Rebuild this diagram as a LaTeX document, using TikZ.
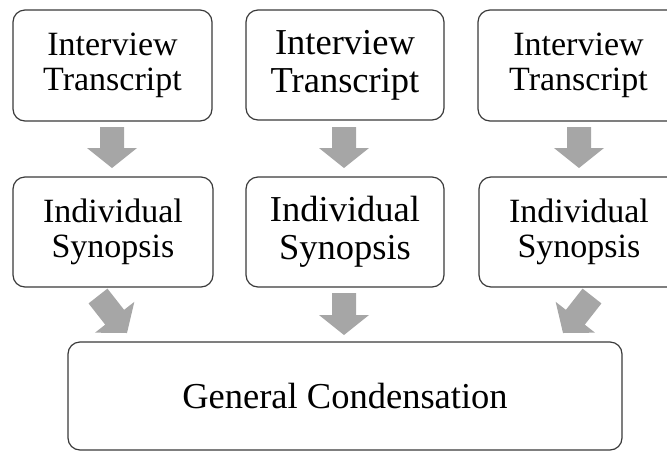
\documentclass[tikz,border=0pt]{standalone}
\usepackage{fontspec}
\setmainfont{Liberation Serif}
\usetikzlibrary{calc}
\definecolor{arrowgray}{HTML}{A6A6A6}
\definecolor{boxline}{HTML}{3A3A3A}
\tikzset{
  box/.style={draw=boxline, line width=1.2pt, rounded corners=12pt, fill=white,
    align=center, inner sep=0pt, font=\fontsize{34}{35}\selectfont},
  bigbox/.style={box, font=\fontsize{36.5}{38}\selectfont},
  arrowfill/.style={fill=arrowgray}
}
\newcommand\blockarrow[2]{%
  \coordinate (ba-m) at ($(#2)!20pt!(#1)$);
  \fill[arrowfill] ($(#1)!12pt!90:(#2)$) -- ($(ba-m)!12pt!90:(#2)$) -- ($(ba-m)!25pt!90:(#2)$) -- (#2)
    -- ($(ba-m)!25pt!-90:(#2)$) -- ($(ba-m)!12pt!-90:(#2)$) -- ($(#1)!12pt!-90:(#2)$) -- cycle;}
\begin{document}
\begin{tikzpicture}[x=1pt,y=-1pt]
\useasboundingbox (0,0) rectangle (667,451);
\clip (0,0) rectangle (667,451);
% row 1
\node[box, minimum width=199pt, minimum height=111pt] (t1) at (112.5,65.5) {Interview\\Transcript};
\node[bigbox, minimum width=198pt, minimum height=110pt] (t2) at (345,65) {Interview\\Transcript};
\node[box, minimum width=201pt, minimum height=111pt] (t3) at (578.5,65.5) {Interview\\Transcript};
% row 2
\node[box, minimum width=200pt, minimum height=110pt] (s1) at (113,232) {Individual\\Synopsis};
\node[bigbox, minimum width=198pt, minimum height=110pt] (s2) at (345,232) {Individual\\Synopsis};
\node[box, minimum width=200pt, minimum height=110pt] (s3) at (579,232) {Individual\\Synopsis};
% bottom
\node[bigbox, minimum width=554pt, minimum height=108pt] (g) at (345,396) {General Condensation};
% arrow ends
\coordinate (a1s) at (112,127); \coordinate (a1e) at (112,168);
\coordinate (a2s) at (344,127); \coordinate (a2e) at (344,168);
\coordinate (a3s) at (579,127); \coordinate (a3e) at (579,168);
\coordinate (b1s) at (98,296);  \coordinate (b1e) at (127,333);
\coordinate (b2s) at (344,293); \coordinate (b2e) at (344,335);
\coordinate (b3s) at (592,296); \coordinate (b3e) at (563,333);
\blockarrow{a1s}{a1e}
\blockarrow{a2s}{a2e}
\blockarrow{a3s}{a3e}
\blockarrow{b1s}{b1e}
\blockarrow{b2s}{b2e}
\blockarrow{b3s}{b3e}
\end{tikzpicture}
\end{document}
